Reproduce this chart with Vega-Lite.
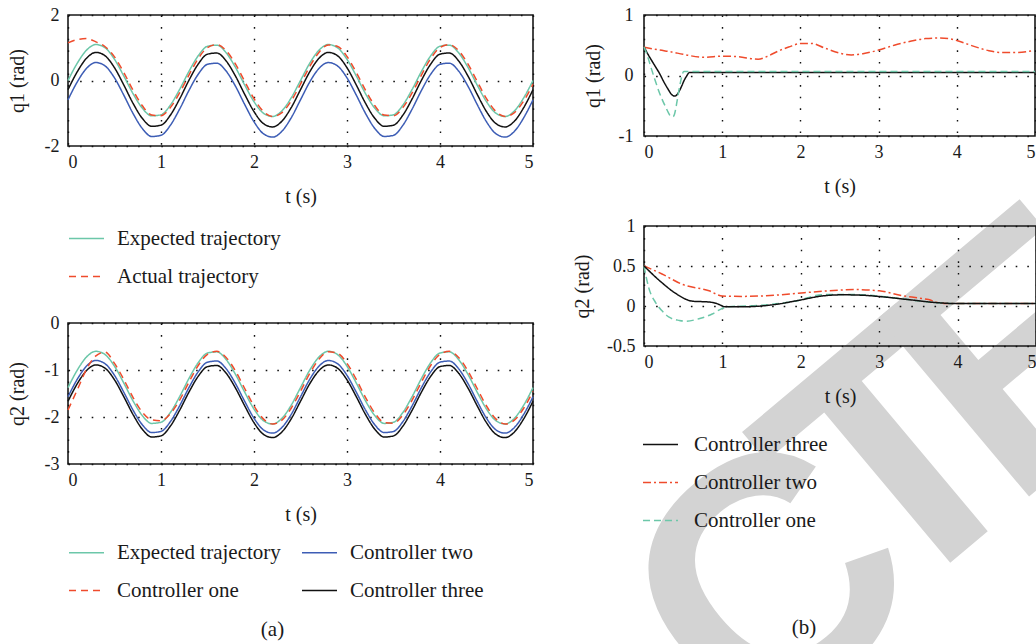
{
"$schema": "https://vega.github.io/schema/vega-lite/v6.json",
"background": "white",
"padding": {"left": 6, "top": 5, "right": 0, "bottom": 0},
"config": {
  "font": "Liberation Serif",
  "view": {"stroke": "#1a1a1a", "strokeWidth": 1.6},
  "axis": {"domain": false, "ticks": false, "grid": true, "gridColor": "#111111", "gridDash": [1.6, 10], "gridWidth": 1.4, "labelFont": "Liberation Serif", "labelFontSize": 18, "labelColor": "#1a1a1a", "titleFont": "Liberation Serif", "titleFontSize": 20, "titleFontWeight": "normal", "titleColor": "#1a1a1a", "labelPadding": 7},
  "axisX": {"titlePadding": 15},
  "axisY": {"titlePadding": 17, "labelPadding": 9},
  "legend": {"orient": "none", "title": null, "labelFont": "Liberation Serif", "labelFontSize": 21, "labelColor": "#1a1a1a", "labelLimit": 500, "symbolType": "stroke", "symbolSize": 1225, "symbolStrokeWidth": 1.5, "labelOffset": 12, "rowPadding": 9, "columnPadding": 18, "padding": 0, "offset": 0},
  "title": {"font": "Liberation Serif", "fontSize": 21, "fontWeight": "normal", "color": "#1a1a1a", "orient": "bottom"},
  "line": {"strokeWidth": 1.5, "interpolate": "monotone"}
},
"datasets": {
"wm": [{"t": 2.532, "v": -9.818, "label": "C"}, {"t": 4.156, "v": -7.793, "label": "T"}, {"t": 5.812, "v": -5.997, "label": "E"}],
"tl": [
{"s":"Controller two","t":0,"v":-0.59},{"s":"Controller two","t":0.1,"v":-0.041},{"s":"Controller two","t":0.2,"v":0.372},{"s":"Controller two","t":0.3,"v":0.548},{"s":"Controller two","t":0.4,"v":0.442},{"s":"Controller two","t":0.5,"v":0.08},{"s":"Controller two","t":0.6,"v":-0.447},{"s":"Controller two","t":0.7,"v":-1.01},{"s":"Controller two","t":0.8,"v":-1.469},{"s":"Controller two","t":0.9,"v":-1.709},{"s":"Controller two","t":1.0,"v":-1.674},{"s":"Controller two","t":1.1,"v":-1.371},{"s":"Controller two","t":1.2,"v":-0.874},{"s":"Controller two","t":1.3,"v":-0.306},{"s":"Controller two","t":1.4,"v":0.191},{"s":"Controller two","t":1.5,"v":0.494},{"s":"Controller two","t":1.6,"v":0.529},{"s":"Controller two","t":1.7,"v":0.289},{"s":"Controller two","t":1.8,"v":-0.17},{"s":"Controller two","t":1.9,"v":-0.733},{"s":"Controller two","t":2.0,"v":-1.26},{"s":"Controller two","t":2.1,"v":-1.622},{"s":"Controller two","t":2.2,"v":-1.728},{"s":"Controller two","t":2.3,"v":-1.552},{"s":"Controller two","t":2.4,"v":-1.139},{"s":"Controller two","t":2.5,"v":-0.59},{"s":"Controller two","t":2.6,"v":-0.041},{"s":"Controller two","t":2.7,"v":0.372},{"s":"Controller two","t":2.8,"v":0.548},{"s":"Controller two","t":2.9,"v":0.442},{"s":"Controller two","t":3.0,"v":0.08},{"s":"Controller two","t":3.1,"v":-0.447},{"s":"Controller two","t":3.2,"v":-1.01},{"s":"Controller two","t":3.3,"v":-1.469},{"s":"Controller two","t":3.4,"v":-1.709},{"s":"Controller two","t":3.5,"v":-1.674},{"s":"Controller two","t":3.6,"v":-1.371},{"s":"Controller two","t":3.7,"v":-0.874},{"s":"Controller two","t":3.8,"v":-0.306},{"s":"Controller two","t":3.9,"v":0.191},{"s":"Controller two","t":4.0,"v":0.494},{"s":"Controller two","t":4.1,"v":0.529},{"s":"Controller two","t":4.2,"v":0.289},{"s":"Controller two","t":4.3,"v":-0.17},{"s":"Controller two","t":4.4,"v":-0.733},{"s":"Controller two","t":4.5,"v":-1.26},{"s":"Controller two","t":4.6,"v":-1.622},{"s":"Controller two","t":4.7,"v":-1.728},{"s":"Controller two","t":4.8,"v":-1.552},{"s":"Controller two","t":4.9,"v":-1.139},{"s":"Controller two","t":5.0,"v":-0.59},
{"s":"Controller three","t":0,"v":-0.28},{"s":"Controller three","t":0.1,"v":0.269},{"s":"Controller three","t":0.2,"v":0.682},{"s":"Controller three","t":0.3,"v":0.858},{"s":"Controller three","t":0.4,"v":0.752},{"s":"Controller three","t":0.5,"v":0.39},{"s":"Controller three","t":0.6,"v":-0.137},{"s":"Controller three","t":0.7,"v":-0.7},{"s":"Controller three","t":0.8,"v":-1.159},{"s":"Controller three","t":0.9,"v":-1.399},{"s":"Controller three","t":1.0,"v":-1.364},{"s":"Controller three","t":1.1,"v":-1.061},{"s":"Controller three","t":1.2,"v":-0.564},{"s":"Controller three","t":1.3,"v":0.004},{"s":"Controller three","t":1.4,"v":0.501},{"s":"Controller three","t":1.5,"v":0.804},{"s":"Controller three","t":1.6,"v":0.839},{"s":"Controller three","t":1.7,"v":0.599},{"s":"Controller three","t":1.8,"v":0.14},{"s":"Controller three","t":1.9,"v":-0.423},{"s":"Controller three","t":2.0,"v":-0.95},{"s":"Controller three","t":2.1,"v":-1.312},{"s":"Controller three","t":2.2,"v":-1.418},{"s":"Controller three","t":2.3,"v":-1.242},{"s":"Controller three","t":2.4,"v":-0.829},{"s":"Controller three","t":2.5,"v":-0.28},{"s":"Controller three","t":2.6,"v":0.269},{"s":"Controller three","t":2.7,"v":0.682},{"s":"Controller three","t":2.8,"v":0.858},{"s":"Controller three","t":2.9,"v":0.752},{"s":"Controller three","t":3.0,"v":0.39},{"s":"Controller three","t":3.1,"v":-0.137},{"s":"Controller three","t":3.2,"v":-0.7},{"s":"Controller three","t":3.3,"v":-1.159},{"s":"Controller three","t":3.4,"v":-1.399},{"s":"Controller three","t":3.5,"v":-1.364},{"s":"Controller three","t":3.6,"v":-1.061},{"s":"Controller three","t":3.7,"v":-0.564},{"s":"Controller three","t":3.8,"v":0.004},{"s":"Controller three","t":3.9,"v":0.501},{"s":"Controller three","t":4.0,"v":0.804},{"s":"Controller three","t":4.1,"v":0.839},{"s":"Controller three","t":4.2,"v":0.599},{"s":"Controller three","t":4.3,"v":0.14},{"s":"Controller three","t":4.4,"v":-0.423},{"s":"Controller three","t":4.5,"v":-0.95},{"s":"Controller three","t":4.6,"v":-1.312},{"s":"Controller three","t":4.7,"v":-1.418},{"s":"Controller three","t":4.8,"v":-1.242},{"s":"Controller three","t":4.9,"v":-0.829},{"s":"Controller three","t":5.0,"v":-0.28},
{"s":"Expected trajectory","t":0,"v":0},{"s":"Expected trajectory","t":0.1,"v":0.53},{"s":"Expected trajectory","t":0.2,"v":0.928},{"s":"Expected trajectory","t":0.3,"v":1.098},{"s":"Expected trajectory","t":0.4,"v":0.996},{"s":"Expected trajectory","t":0.5,"v":0.647},{"s":"Expected trajectory","t":0.6,"v":0.138},{"s":"Expected trajectory","t":0.7,"v":-0.405},{"s":"Expected trajectory","t":0.8,"v":-0.848},{"s":"Expected trajectory","t":0.9,"v":-1.08},{"s":"Expected trajectory","t":1.0,"v":-1.046},{"s":"Expected trajectory","t":1.1,"v":-0.754},{"s":"Expected trajectory","t":1.2,"v":-0.274},{"s":"Expected trajectory","t":1.3,"v":0.274},{"s":"Expected trajectory","t":1.4,"v":0.754},{"s":"Expected trajectory","t":1.5,"v":1.046},{"s":"Expected trajectory","t":1.6,"v":1.08},{"s":"Expected trajectory","t":1.7,"v":0.848},{"s":"Expected trajectory","t":1.8,"v":0.405},{"s":"Expected trajectory","t":1.9,"v":-0.138},{"s":"Expected trajectory","t":2.0,"v":-0.647},{"s":"Expected trajectory","t":2.1,"v":-0.996},{"s":"Expected trajectory","t":2.2,"v":-1.098},{"s":"Expected trajectory","t":2.3,"v":-0.928},{"s":"Expected trajectory","t":2.4,"v":-0.53},{"s":"Expected trajectory","t":2.5,"v":0},{"s":"Expected trajectory","t":2.6,"v":0.53},{"s":"Expected trajectory","t":2.7,"v":0.928},{"s":"Expected trajectory","t":2.8,"v":1.098},{"s":"Expected trajectory","t":2.9,"v":0.996},{"s":"Expected trajectory","t":3.0,"v":0.647},{"s":"Expected trajectory","t":3.1,"v":0.138},{"s":"Expected trajectory","t":3.2,"v":-0.405},{"s":"Expected trajectory","t":3.3,"v":-0.848},{"s":"Expected trajectory","t":3.4,"v":-1.08},{"s":"Expected trajectory","t":3.5,"v":-1.046},{"s":"Expected trajectory","t":3.6,"v":-0.754},{"s":"Expected trajectory","t":3.7,"v":-0.274},{"s":"Expected trajectory","t":3.8,"v":0.274},{"s":"Expected trajectory","t":3.9,"v":0.754},{"s":"Expected trajectory","t":4.0,"v":1.046},{"s":"Expected trajectory","t":4.1,"v":1.08},{"s":"Expected trajectory","t":4.2,"v":0.848},{"s":"Expected trajectory","t":4.3,"v":0.405},{"s":"Expected trajectory","t":4.4,"v":-0.138},{"s":"Expected trajectory","t":4.5,"v":-0.647},{"s":"Expected trajectory","t":4.6,"v":-0.996},{"s":"Expected trajectory","t":4.7,"v":-1.098},{"s":"Expected trajectory","t":4.8,"v":-0.928},{"s":"Expected trajectory","t":4.9,"v":-0.53},{"s":"Expected trajectory","t":5.0,"v":0},
{"s":"Actual trajectory","t":0,"v":1.15},{"s":"Actual trajectory","t":0.1,"v":1.25},{"s":"Actual trajectory","t":0.2,"v":1.28},{"s":"Actual trajectory","t":0.3,"v":1.18},{"s":"Actual trajectory","t":0.4,"v":1.03},{"s":"Actual trajectory","t":0.5,"v":0.72},{"s":"Actual trajectory","t":0.6,"v":0.246},{"s":"Actual trajectory","t":0.7,"v":-0.3},{"s":"Actual trajectory","t":0.8,"v":-0.773},{"s":"Actual trajectory","t":0.9,"v":-1.054},{"s":"Actual trajectory","t":1.0,"v":-1.075},{"s":"Actual trajectory","t":1.1,"v":-0.829},{"s":"Actual trajectory","t":1.2,"v":-0.38},{"s":"Actual trajectory","t":1.3,"v":0.165},{"s":"Actual trajectory","t":1.4,"v":0.669},{"s":"Actual trajectory","t":1.5,"v":1.007},{"s":"Actual trajectory","t":1.6,"v":1.096},{"s":"Actual trajectory","t":1.7,"v":0.913},{"s":"Actual trajectory","t":1.8,"v":0.506},{"s":"Actual trajectory","t":1.9,"v":-0.028},{"s":"Actual trajectory","t":2.0,"v":-0.554},{"s":"Actual trajectory","t":2.1,"v":-0.944},{"s":"Actual trajectory","t":2.2,"v":-1.099},{"s":"Actual trajectory","t":2.3,"v":-0.983},{"s":"Actual trajectory","t":2.4,"v":-0.624},{"s":"Actual trajectory","t":2.5,"v":-0.11},{"s":"Actual trajectory","t":2.6,"v":0.43},{"s":"Actual trajectory","t":2.7,"v":0.865},{"s":"Actual trajectory","t":2.8,"v":1.086},{"s":"Actual trajectory","t":2.9,"v":1.037},{"s":"Actual trajectory","t":3.0,"v":0.733},{"s":"Actual trajectory","t":3.1,"v":0.246},{"s":"Actual trajectory","t":3.2,"v":-0.3},{"s":"Actual trajectory","t":3.3,"v":-0.773},{"s":"Actual trajectory","t":3.4,"v":-1.054},{"s":"Actual trajectory","t":3.5,"v":-1.075},{"s":"Actual trajectory","t":3.6,"v":-0.829},{"s":"Actual trajectory","t":3.7,"v":-0.38},{"s":"Actual trajectory","t":3.8,"v":0.165},{"s":"Actual trajectory","t":3.9,"v":0.669},{"s":"Actual trajectory","t":4.0,"v":1.007},{"s":"Actual trajectory","t":4.1,"v":1.096},{"s":"Actual trajectory","t":4.2,"v":0.913},{"s":"Actual trajectory","t":4.3,"v":0.506},{"s":"Actual trajectory","t":4.4,"v":-0.028},{"s":"Actual trajectory","t":4.5,"v":-0.554},{"s":"Actual trajectory","t":4.6,"v":-0.944},{"s":"Actual trajectory","t":4.7,"v":-1.099},{"s":"Actual trajectory","t":4.8,"v":-0.983},{"s":"Actual trajectory","t":4.9,"v":-0.624},{"s":"Actual trajectory","t":5.0,"v":-0.11}
],
"bl": [
{"s":"Controller three","t":0,"v":-1.665},{"s":"Controller three","t":0.1,"v":-1.291},{"s":"Controller three","t":0.2,"v":-1.011},{"s":"Controller three","t":0.3,"v":-0.892},{"s":"Controller three","t":0.4,"v":-0.964},{"s":"Controller three","t":0.5,"v":-1.209},{"s":"Controller three","t":0.6,"v":-1.568},{"s":"Controller three","t":0.7,"v":-1.95},{"s":"Controller three","t":0.8,"v":-2.263},{"s":"Controller three","t":0.9,"v":-2.426},{"s":"Controller three","t":1.0,"v":-2.402},{"s":"Controller three","t":1.1,"v":-2.196},{"s":"Controller three","t":1.2,"v":-1.858},{"s":"Controller three","t":1.3,"v":-1.472},{"s":"Controller three","t":1.4,"v":-1.134},{"s":"Controller three","t":1.5,"v":-0.928},{"s":"Controller three","t":1.6,"v":-0.904},{"s":"Controller three","t":1.7,"v":-1.067},{"s":"Controller three","t":1.8,"v":-1.38},{"s":"Controller three","t":1.9,"v":-1.762},{"s":"Controller three","t":2.0,"v":-2.121},{"s":"Controller three","t":2.1,"v":-2.366},{"s":"Controller three","t":2.2,"v":-2.438},{"s":"Controller three","t":2.3,"v":-2.319},{"s":"Controller three","t":2.4,"v":-2.039},{"s":"Controller three","t":2.5,"v":-1.665},{"s":"Controller three","t":2.6,"v":-1.291},{"s":"Controller three","t":2.7,"v":-1.011},{"s":"Controller three","t":2.8,"v":-0.892},{"s":"Controller three","t":2.9,"v":-0.964},{"s":"Controller three","t":3.0,"v":-1.209},{"s":"Controller three","t":3.1,"v":-1.568},{"s":"Controller three","t":3.2,"v":-1.95},{"s":"Controller three","t":3.3,"v":-2.263},{"s":"Controller three","t":3.4,"v":-2.426},{"s":"Controller three","t":3.5,"v":-2.402},{"s":"Controller three","t":3.6,"v":-2.196},{"s":"Controller three","t":3.7,"v":-1.858},{"s":"Controller three","t":3.8,"v":-1.472},{"s":"Controller three","t":3.9,"v":-1.134},{"s":"Controller three","t":4.0,"v":-0.928},{"s":"Controller three","t":4.1,"v":-0.904},{"s":"Controller three","t":4.2,"v":-1.067},{"s":"Controller three","t":4.3,"v":-1.38},{"s":"Controller three","t":4.4,"v":-1.762},{"s":"Controller three","t":4.5,"v":-2.121},{"s":"Controller three","t":4.6,"v":-2.366},{"s":"Controller three","t":4.7,"v":-2.438},{"s":"Controller three","t":4.8,"v":-2.319},{"s":"Controller three","t":4.9,"v":-2.039},{"s":"Controller three","t":5.0,"v":-1.665},
{"s":"Controller two","t":0,"v":-1.57},{"s":"Controller two","t":0.1,"v":-1.196},{"s":"Controller two","t":0.2,"v":-0.916},{"s":"Controller two","t":0.3,"v":-0.797},{"s":"Controller two","t":0.4,"v":-0.869},{"s":"Controller two","t":0.5,"v":-1.114},{"s":"Controller two","t":0.6,"v":-1.473},{"s":"Controller two","t":0.7,"v":-1.855},{"s":"Controller two","t":0.8,"v":-2.168},{"s":"Controller two","t":0.9,"v":-2.331},{"s":"Controller two","t":1.0,"v":-2.307},{"s":"Controller two","t":1.1,"v":-2.101},{"s":"Controller two","t":1.2,"v":-1.763},{"s":"Controller two","t":1.3,"v":-1.377},{"s":"Controller two","t":1.4,"v":-1.039},{"s":"Controller two","t":1.5,"v":-0.833},{"s":"Controller two","t":1.6,"v":-0.809},{"s":"Controller two","t":1.7,"v":-0.972},{"s":"Controller two","t":1.8,"v":-1.285},{"s":"Controller two","t":1.9,"v":-1.667},{"s":"Controller two","t":2.0,"v":-2.026},{"s":"Controller two","t":2.1,"v":-2.271},{"s":"Controller two","t":2.2,"v":-2.343},{"s":"Controller two","t":2.3,"v":-2.224},{"s":"Controller two","t":2.4,"v":-1.944},{"s":"Controller two","t":2.5,"v":-1.57},{"s":"Controller two","t":2.6,"v":-1.196},{"s":"Controller two","t":2.7,"v":-0.916},{"s":"Controller two","t":2.8,"v":-0.797},{"s":"Controller two","t":2.9,"v":-0.869},{"s":"Controller two","t":3.0,"v":-1.114},{"s":"Controller two","t":3.1,"v":-1.473},{"s":"Controller two","t":3.2,"v":-1.855},{"s":"Controller two","t":3.3,"v":-2.168},{"s":"Controller two","t":3.4,"v":-2.331},{"s":"Controller two","t":3.5,"v":-2.307},{"s":"Controller two","t":3.6,"v":-2.101},{"s":"Controller two","t":3.7,"v":-1.763},{"s":"Controller two","t":3.8,"v":-1.377},{"s":"Controller two","t":3.9,"v":-1.039},{"s":"Controller two","t":4.0,"v":-0.833},{"s":"Controller two","t":4.1,"v":-0.809},{"s":"Controller two","t":4.2,"v":-0.972},{"s":"Controller two","t":4.3,"v":-1.285},{"s":"Controller two","t":4.4,"v":-1.667},{"s":"Controller two","t":4.5,"v":-2.026},{"s":"Controller two","t":4.6,"v":-2.271},{"s":"Controller two","t":4.7,"v":-2.343},{"s":"Controller two","t":4.8,"v":-2.224},{"s":"Controller two","t":4.9,"v":-1.944},{"s":"Controller two","t":5.0,"v":-1.57},
{"s":"Expected trajectory","t":0,"v":-1.375},{"s":"Expected trajectory","t":0.1,"v":-1.001},{"s":"Expected trajectory","t":0.2,"v":-0.721},{"s":"Expected trajectory","t":0.3,"v":-0.602},{"s":"Expected trajectory","t":0.4,"v":-0.674},{"s":"Expected trajectory","t":0.5,"v":-0.919},{"s":"Expected trajectory","t":0.6,"v":-1.278},{"s":"Expected trajectory","t":0.7,"v":-1.66},{"s":"Expected trajectory","t":0.8,"v":-1.973},{"s":"Expected trajectory","t":0.9,"v":-2.136},{"s":"Expected trajectory","t":1.0,"v":-2.112},{"s":"Expected trajectory","t":1.1,"v":-1.906},{"s":"Expected trajectory","t":1.2,"v":-1.568},{"s":"Expected trajectory","t":1.3,"v":-1.182},{"s":"Expected trajectory","t":1.4,"v":-0.844},{"s":"Expected trajectory","t":1.5,"v":-0.638},{"s":"Expected trajectory","t":1.6,"v":-0.614},{"s":"Expected trajectory","t":1.7,"v":-0.777},{"s":"Expected trajectory","t":1.8,"v":-1.09},{"s":"Expected trajectory","t":1.9,"v":-1.472},{"s":"Expected trajectory","t":2.0,"v":-1.831},{"s":"Expected trajectory","t":2.1,"v":-2.076},{"s":"Expected trajectory","t":2.2,"v":-2.148},{"s":"Expected trajectory","t":2.3,"v":-2.029},{"s":"Expected trajectory","t":2.4,"v":-1.749},{"s":"Expected trajectory","t":2.5,"v":-1.375},{"s":"Expected trajectory","t":2.6,"v":-1.001},{"s":"Expected trajectory","t":2.7,"v":-0.721},{"s":"Expected trajectory","t":2.8,"v":-0.602},{"s":"Expected trajectory","t":2.9,"v":-0.674},{"s":"Expected trajectory","t":3.0,"v":-0.919},{"s":"Expected trajectory","t":3.1,"v":-1.278},{"s":"Expected trajectory","t":3.2,"v":-1.66},{"s":"Expected trajectory","t":3.3,"v":-1.973},{"s":"Expected trajectory","t":3.4,"v":-2.136},{"s":"Expected trajectory","t":3.5,"v":-2.112},{"s":"Expected trajectory","t":3.6,"v":-1.906},{"s":"Expected trajectory","t":3.7,"v":-1.568},{"s":"Expected trajectory","t":3.8,"v":-1.182},{"s":"Expected trajectory","t":3.9,"v":-0.844},{"s":"Expected trajectory","t":4.0,"v":-0.638},{"s":"Expected trajectory","t":4.1,"v":-0.614},{"s":"Expected trajectory","t":4.2,"v":-0.777},{"s":"Expected trajectory","t":4.3,"v":-1.09},{"s":"Expected trajectory","t":4.4,"v":-1.472},{"s":"Expected trajectory","t":4.5,"v":-1.831},{"s":"Expected trajectory","t":4.6,"v":-2.076},{"s":"Expected trajectory","t":4.7,"v":-2.148},{"s":"Expected trajectory","t":4.8,"v":-2.029},{"s":"Expected trajectory","t":4.9,"v":-1.749},{"s":"Expected trajectory","t":5.0,"v":-1.375},
{"s":"Controller one","t":0,"v":-1.85},{"s":"Controller one","t":0.1,"v":-1.42},{"s":"Controller one","t":0.2,"v":-0.98},{"s":"Controller one","t":0.3,"v":-0.7},{"s":"Controller one","t":0.4,"v":-0.62},{"s":"Controller one","t":0.5,"v":-0.859},{"s":"Controller one","t":0.6,"v":-1.201},{"s":"Controller one","t":0.7,"v":-1.587},{"s":"Controller one","t":0.8,"v":-1.9},{"s":"Controller one","t":0.9,"v":-2.06},{"s":"Controller one","t":1.0,"v":-2.08},{"s":"Controller one","t":1.1,"v":-1.93},{"s":"Controller one","t":1.2,"v":-1.642},{"s":"Controller one","t":1.3,"v":-1.259},{"s":"Controller one","t":1.4,"v":-0.904},{"s":"Controller one","t":1.5,"v":-0.666},{"s":"Controller one","t":1.6,"v":-0.603},{"s":"Controller one","t":1.7,"v":-0.732},{"s":"Controller one","t":1.8,"v":-1.018},{"s":"Controller one","t":1.9,"v":-1.394},{"s":"Controller one","t":2.0,"v":-1.766},{"s":"Controller one","t":2.1,"v":-2.04},{"s":"Controller one","t":2.2,"v":-2.149},{"s":"Controller one","t":2.3,"v":-2.068},{"s":"Controller one","t":2.4,"v":-1.814},{"s":"Controller one","t":2.5,"v":-1.453},{"s":"Controller one","t":2.6,"v":-1.072},{"s":"Controller one","t":2.7,"v":-0.766},{"s":"Controller one","t":2.8,"v":-0.61},{"s":"Controller one","t":2.9,"v":-0.644},{"s":"Controller one","t":3.0,"v":-0.859},{"s":"Controller one","t":3.1,"v":-1.201},{"s":"Controller one","t":3.2,"v":-1.587},{"s":"Controller one","t":3.3,"v":-1.92},{"s":"Controller one","t":3.4,"v":-2.117},{"s":"Controller one","t":3.5,"v":-2.132},{"s":"Controller one","t":3.6,"v":-1.959},{"s":"Controller one","t":3.7,"v":-1.642},{"s":"Controller one","t":3.8,"v":-1.259},{"s":"Controller one","t":3.9,"v":-0.904},{"s":"Controller one","t":4.0,"v":-0.666},{"s":"Controller one","t":4.1,"v":-0.603},{"s":"Controller one","t":4.2,"v":-0.732},{"s":"Controller one","t":4.3,"v":-1.018},{"s":"Controller one","t":4.4,"v":-1.394},{"s":"Controller one","t":4.5,"v":-1.766},{"s":"Controller one","t":4.6,"v":-2.04},{"s":"Controller one","t":4.7,"v":-2.149},{"s":"Controller one","t":4.8,"v":-2.068},{"s":"Controller one","t":4.9,"v":-1.814},{"s":"Controller one","t":5.0,"v":-1.453}
],
"tr": [
{"s":"Controller two","t":0,"v":0.47},{"s":"Controller two","t":0.2,"v":0.42},{"s":"Controller two","t":0.35,"v":0.39},{"s":"Controller two","t":0.5,"v":0.35},{"s":"Controller two","t":0.77,"v":0.3},{"s":"Controller two","t":1.0,"v":0.32},{"s":"Controller two","t":1.2,"v":0.31},{"s":"Controller two","t":1.46,"v":0.27},{"s":"Controller two","t":1.6,"v":0.33},{"s":"Controller two","t":1.71,"v":0.4},{"s":"Controller two","t":1.85,"v":0.47},{"s":"Controller two","t":2.01,"v":0.53},{"s":"Controller two","t":2.14,"v":0.53},{"s":"Controller two","t":2.3,"v":0.46},{"s":"Controller two","t":2.45,"v":0.39},{"s":"Controller two","t":2.65,"v":0.34},{"s":"Controller two","t":2.8,"v":0.36},{"s":"Controller two","t":3.0,"v":0.42},{"s":"Controller two","t":3.2,"v":0.5},{"s":"Controller two","t":3.42,"v":0.57},{"s":"Controller two","t":3.6,"v":0.61},{"s":"Controller two","t":3.77,"v":0.62},{"s":"Controller two","t":3.9,"v":0.61},{"s":"Controller two","t":4.02,"v":0.57},{"s":"Controller two","t":4.2,"v":0.49},{"s":"Controller two","t":4.41,"v":0.41},{"s":"Controller two","t":4.58,"v":0.38},{"s":"Controller two","t":4.75,"v":0.38},{"s":"Controller two","t":4.97,"v":0.41},
{"s":"Controller three","t":0,"v":0.47},{"s":"Controller three","t":0.06,"v":0.33},{"s":"Controller three","t":0.13,"v":0.18},{"s":"Controller three","t":0.2,"v":0.03},{"s":"Controller three","t":0.26,"v":-0.12},{"s":"Controller three","t":0.31,"v":-0.23},{"s":"Controller three","t":0.35,"v":-0.31},{"s":"Controller three","t":0.39,"v":-0.34},{"s":"Controller three","t":0.42,"v":-0.32},{"s":"Controller three","t":0.45,"v":-0.26},{"s":"Controller three","t":0.48,"v":-0.18},{"s":"Controller three","t":0.51,"v":-0.09},{"s":"Controller three","t":0.55,"v":0.0},{"s":"Controller three","t":0.58,"v":0.05},{"s":"Controller three","t":0.7,"v":0.05},{"s":"Controller three","t":1,"v":0.05},{"s":"Controller three","t":2,"v":0.05},{"s":"Controller three","t":3,"v":0.05},{"s":"Controller three","t":4,"v":0.05},{"s":"Controller three","t":5,"v":0.05},
{"s":"Controller one","t":0,"v":0.47},{"s":"Controller one","t":0.05,"v":0.3},{"s":"Controller one","t":0.09,"v":0.13},{"s":"Controller one","t":0.14,"v":-0.07},{"s":"Controller one","t":0.19,"v":-0.26},{"s":"Controller one","t":0.24,"v":-0.42},{"s":"Controller one","t":0.28,"v":-0.53},{"s":"Controller one","t":0.31,"v":-0.61},{"s":"Controller one","t":0.34,"v":-0.67},{"s":"Controller one","t":0.37,"v":-0.68},{"s":"Controller one","t":0.39,"v":-0.64},{"s":"Controller one","t":0.41,"v":-0.52},{"s":"Controller one","t":0.43,"v":-0.37},{"s":"Controller one","t":0.45,"v":-0.22},{"s":"Controller one","t":0.47,"v":-0.09},{"s":"Controller one","t":0.49,"v":0.02},{"s":"Controller one","t":0.51,"v":0.065},{"s":"Controller one","t":0.6,"v":0.065},{"s":"Controller one","t":1,"v":0.065},{"s":"Controller one","t":2,"v":0.065},{"s":"Controller one","t":3,"v":0.065},{"s":"Controller one","t":4,"v":0.065},{"s":"Controller one","t":5,"v":0.065}
],
"br": [
{"s":"Controller two","t":0,"v":0.5},{"s":"Controller two","t":0.23,"v":0.4},{"s":"Controller two","t":0.49,"v":0.27},{"s":"Controller two","t":0.83,"v":0.19},{"s":"Controller two","t":1.0,"v":0.125},{"s":"Controller two","t":1.25,"v":0.12},{"s":"Controller two","t":1.68,"v":0.135},{"s":"Controller two","t":1.97,"v":0.16},{"s":"Controller two","t":2.36,"v":0.19},{"s":"Controller two","t":2.7,"v":0.205},{"s":"Controller two","t":3.0,"v":0.19},{"s":"Controller two","t":3.29,"v":0.13},{"s":"Controller two","t":3.5,"v":0.1},{"s":"Controller two","t":3.63,"v":0.08},{"s":"Controller two","t":3.76,"v":0.04},{"s":"Controller two","t":3.9,"v":0.03},{"s":"Controller two","t":4.5,"v":0.03},{"s":"Controller two","t":5.0,"v":0.03},
{"s":"Controller one","t":0,"v":0.5},{"s":"Controller one","t":0.06,"v":0.23},{"s":"Controller one","t":0.15,"v":0.04},{"s":"Controller one","t":0.23,"v":-0.06},{"s":"Controller one","t":0.32,"v":-0.14},{"s":"Controller one","t":0.45,"v":-0.18},{"s":"Controller one","t":0.53,"v":-0.19},{"s":"Controller one","t":0.7,"v":-0.16},{"s":"Controller one","t":0.87,"v":-0.1},{"s":"Controller one","t":1.0,"v":-0.03},{"s":"Controller one","t":1.08,"v":-0.01},{"s":"Controller one","t":1.5,"v":0.01},{"s":"Controller one","t":1.97,"v":0.07},{"s":"Controller one","t":2.19,"v":0.13},{"s":"Controller one","t":2.36,"v":0.145},{"s":"Controller one","t":2.53,"v":0.145},{"s":"Controller one","t":2.78,"v":0.14},{"s":"Controller one","t":3.04,"v":0.12},{"s":"Controller one","t":3.37,"v":0.08},{"s":"Controller one","t":3.76,"v":0.04},{"s":"Controller one","t":4.0,"v":0.03},{"s":"Controller one","t":5.0,"v":0.03},
{"s":"Controller three","t":0,"v":0.5},{"s":"Controller three","t":0.23,"v":0.29},{"s":"Controller three","t":0.4,"v":0.16},{"s":"Controller three","t":0.62,"v":0.06},{"s":"Controller three","t":0.83,"v":0.05},{"s":"Controller three","t":0.93,"v":0.03},{"s":"Controller three","t":1.04,"v":-0.01},{"s":"Controller three","t":1.25,"v":-0.01},{"s":"Controller three","t":1.68,"v":0.02},{"s":"Controller three","t":1.97,"v":0.07},{"s":"Controller three","t":2.27,"v":0.125},{"s":"Controller three","t":2.53,"v":0.14},{"s":"Controller three","t":2.78,"v":0.135},{"s":"Controller three","t":3.04,"v":0.115},{"s":"Controller three","t":3.37,"v":0.08},{"s":"Controller three","t":3.76,"v":0.04},{"s":"Controller three","t":4.0,"v":0.03},{"s":"Controller three","t":5.0,"v":0.03}
]
},
"spacing": 34,
"resolve": {"scale": {"color": "independent", "strokeDash": "independent"}, "legend": {"color": "independent", "strokeDash": "independent"}},
"hconcat": [
{
 "spacing": 177,
 "bounds": "flush",
 "resolve": {"scale": {"color": "independent", "strokeDash": "independent"}, "legend": {"color": "independent", "strokeDash": "independent"}},
 "vconcat": [
  {
   "width": 465, "height": 131,
   "data": {"name": "tl"},
   "mark": {"type": "line"},
   "encoding": {
    "x": {"field": "t", "type": "quantitative", "scale": {"domain": [0, 5], "nice": false}, "axis": {"values": [0, 1, 2, 3, 4, 5], "title": "t (s)", "labelExpr": "'' + datum.value"}},
    "y": {"field": "v", "type": "quantitative", "scale": {"domain": [-2, 2], "nice": false}, "axis": {"values": [-2, 0, 2], "title": "q1 (rad)", "labelExpr": "'' + datum.value"}},
    "color": {"field": "s", "type": "nominal", "scale": {"domain": ["Expected trajectory", "Actual trajectory", "Controller two", "Controller three"], "range": ["#6cc7a9", "#ef4b2c", "#3d5db5", "#111111"]}, "legend": {"values": ["Expected trajectory", "Actual trajectory"], "legendX": 0, "legendY": 205}},
    "strokeDash": {"field": "s", "type": "nominal", "scale": {"domain": ["Expected trajectory", "Actual trajectory", "Controller two", "Controller three"], "range": [[1, 0], [7, 5], [1, 0], [1, 0]]}, "legend": {"values": ["Expected trajectory", "Actual trajectory"], "legendX": 0, "legendY": 205}}
   }
  },
  {
   "width": 465, "height": 141,
   "data": {"name": "bl"},
   "title": {"text": "(a)", "offset": 18, "dx": -28},
   "mark": {"type": "line"},
   "encoding": {
    "x": {"field": "t", "type": "quantitative", "scale": {"domain": [0, 5], "nice": false}, "axis": {"values": [0, 1, 2, 3, 4, 5], "title": "t (s)", "labelExpr": "'' + datum.value"}},
    "y": {"field": "v", "type": "quantitative", "scale": {"domain": [-3, 0], "nice": false}, "axis": {"values": [-3, -2, -1, 0], "title": "q2 (rad)", "labelExpr": "'' + datum.value"}},
    "color": {"field": "s", "type": "nominal", "scale": {"domain": ["Expected trajectory", "Controller one", "Controller two", "Controller three"], "range": ["#6cc7a9", "#ef4b2c", "#3d5db5", "#111111"]}, "legend": {"columns": 2, "legendX": 0, "legendY": 211}},
    "strokeDash": {"field": "s", "type": "nominal", "scale": {"domain": ["Expected trajectory", "Controller one", "Controller two", "Controller three"], "range": [[1, 0], [7, 5], [1, 0], [1, 0]]}, "legend": {"columns": 2, "legendX": 0, "legendY": 211}}
   }
  }
 ]
},
{
 "spacing": 90,
 "bounds": "flush",
 "resolve": {"scale": {"color": "independent", "strokeDash": "independent"}, "legend": {"color": "independent", "strokeDash": "independent"}},
 "vconcat": [
  {
   "width": 391, "height": 121,
   "encoding": {
    "x": {"field": "t", "type": "quantitative", "scale": {"domain": [0, 5], "nice": false}, "axis": {"values": [0, 1, 2, 3, 4, 5], "title": "t (s)", "labelExpr": "'' + datum.value"}},
    "y": {"field": "v", "type": "quantitative", "scale": {"domain": [-1, 1], "nice": false}, "axis": {"values": [-1, 0, 1], "title": "q1 (rad)", "titlePadding": 15, "labelPadding": 11, "labelExpr": "'' + datum.value"}}
   },
   "layer": [
    {
     "data": {"name": "tr"},
     "mark": {"type": "line"},
     "encoding": {
      "color": {"field": "s", "type": "nominal", "scale": {"domain": ["Controller three", "Controller two", "Controller one"], "range": ["#111111", "#ef4b2c", "#6cc7a9"]}, "legend": null},
      "strokeDash": {"field": "s", "type": "nominal", "scale": {"domain": ["Controller three", "Controller two", "Controller one"], "range": [[1, 0], [8, 3, 2, 3], [7, 4]]}, "legend": null}
     }
    },
    {
     "data": {"name": "wm"},
     "mark": {"type": "text", "font": "Liberation Sans", "fontWeight": "bold", "fontSize": 340, "angle": 320, "align": "center", "baseline": "alphabetic", "fill": "#d3d3d3", "blend": "normal"},
     "encoding": {"text": {"field": "label", "type": "nominal"}}
    }
   ]
  },
  {
   "width": 392, "height": 120,
   "data": {"name": "br"},
   "title": {"text": "(b)", "offset": 86, "dx": -36},
   "mark": {"type": "line"},
   "encoding": {
    "x": {"field": "t", "type": "quantitative", "scale": {"domain": [0, 5], "nice": false}, "axis": {"values": [0, 1, 2, 3, 4, 5], "title": "t (s)", "labelExpr": "'' + datum.value"}},
    "y": {"field": "v", "type": "quantitative", "scale": {"domain": [-0.5, 1], "nice": false}, "axis": {"values": [-0.5, 0, 0.5, 1], "title": "q2 (rad)", "titlePadding": 14, "labelExpr": "'' + datum.value"}},
    "color": {"field": "s", "type": "nominal", "scale": {"domain": ["Controller three", "Controller two", "Controller one"], "range": ["#111111", "#ef4b2c", "#6cc7a9"]}, "legend": {"legendX": -2, "legendY": 200, "labelOffset": 15}},
    "strokeDash": {"field": "s", "type": "nominal", "scale": {"domain": ["Controller three", "Controller two", "Controller one"], "range": [[1, 0], [8, 3, 2, 3], [7, 4]]}, "legend": {"legendX": -2, "legendY": 200, "labelOffset": 15}}
   }
  }
 ]
}
]
}
